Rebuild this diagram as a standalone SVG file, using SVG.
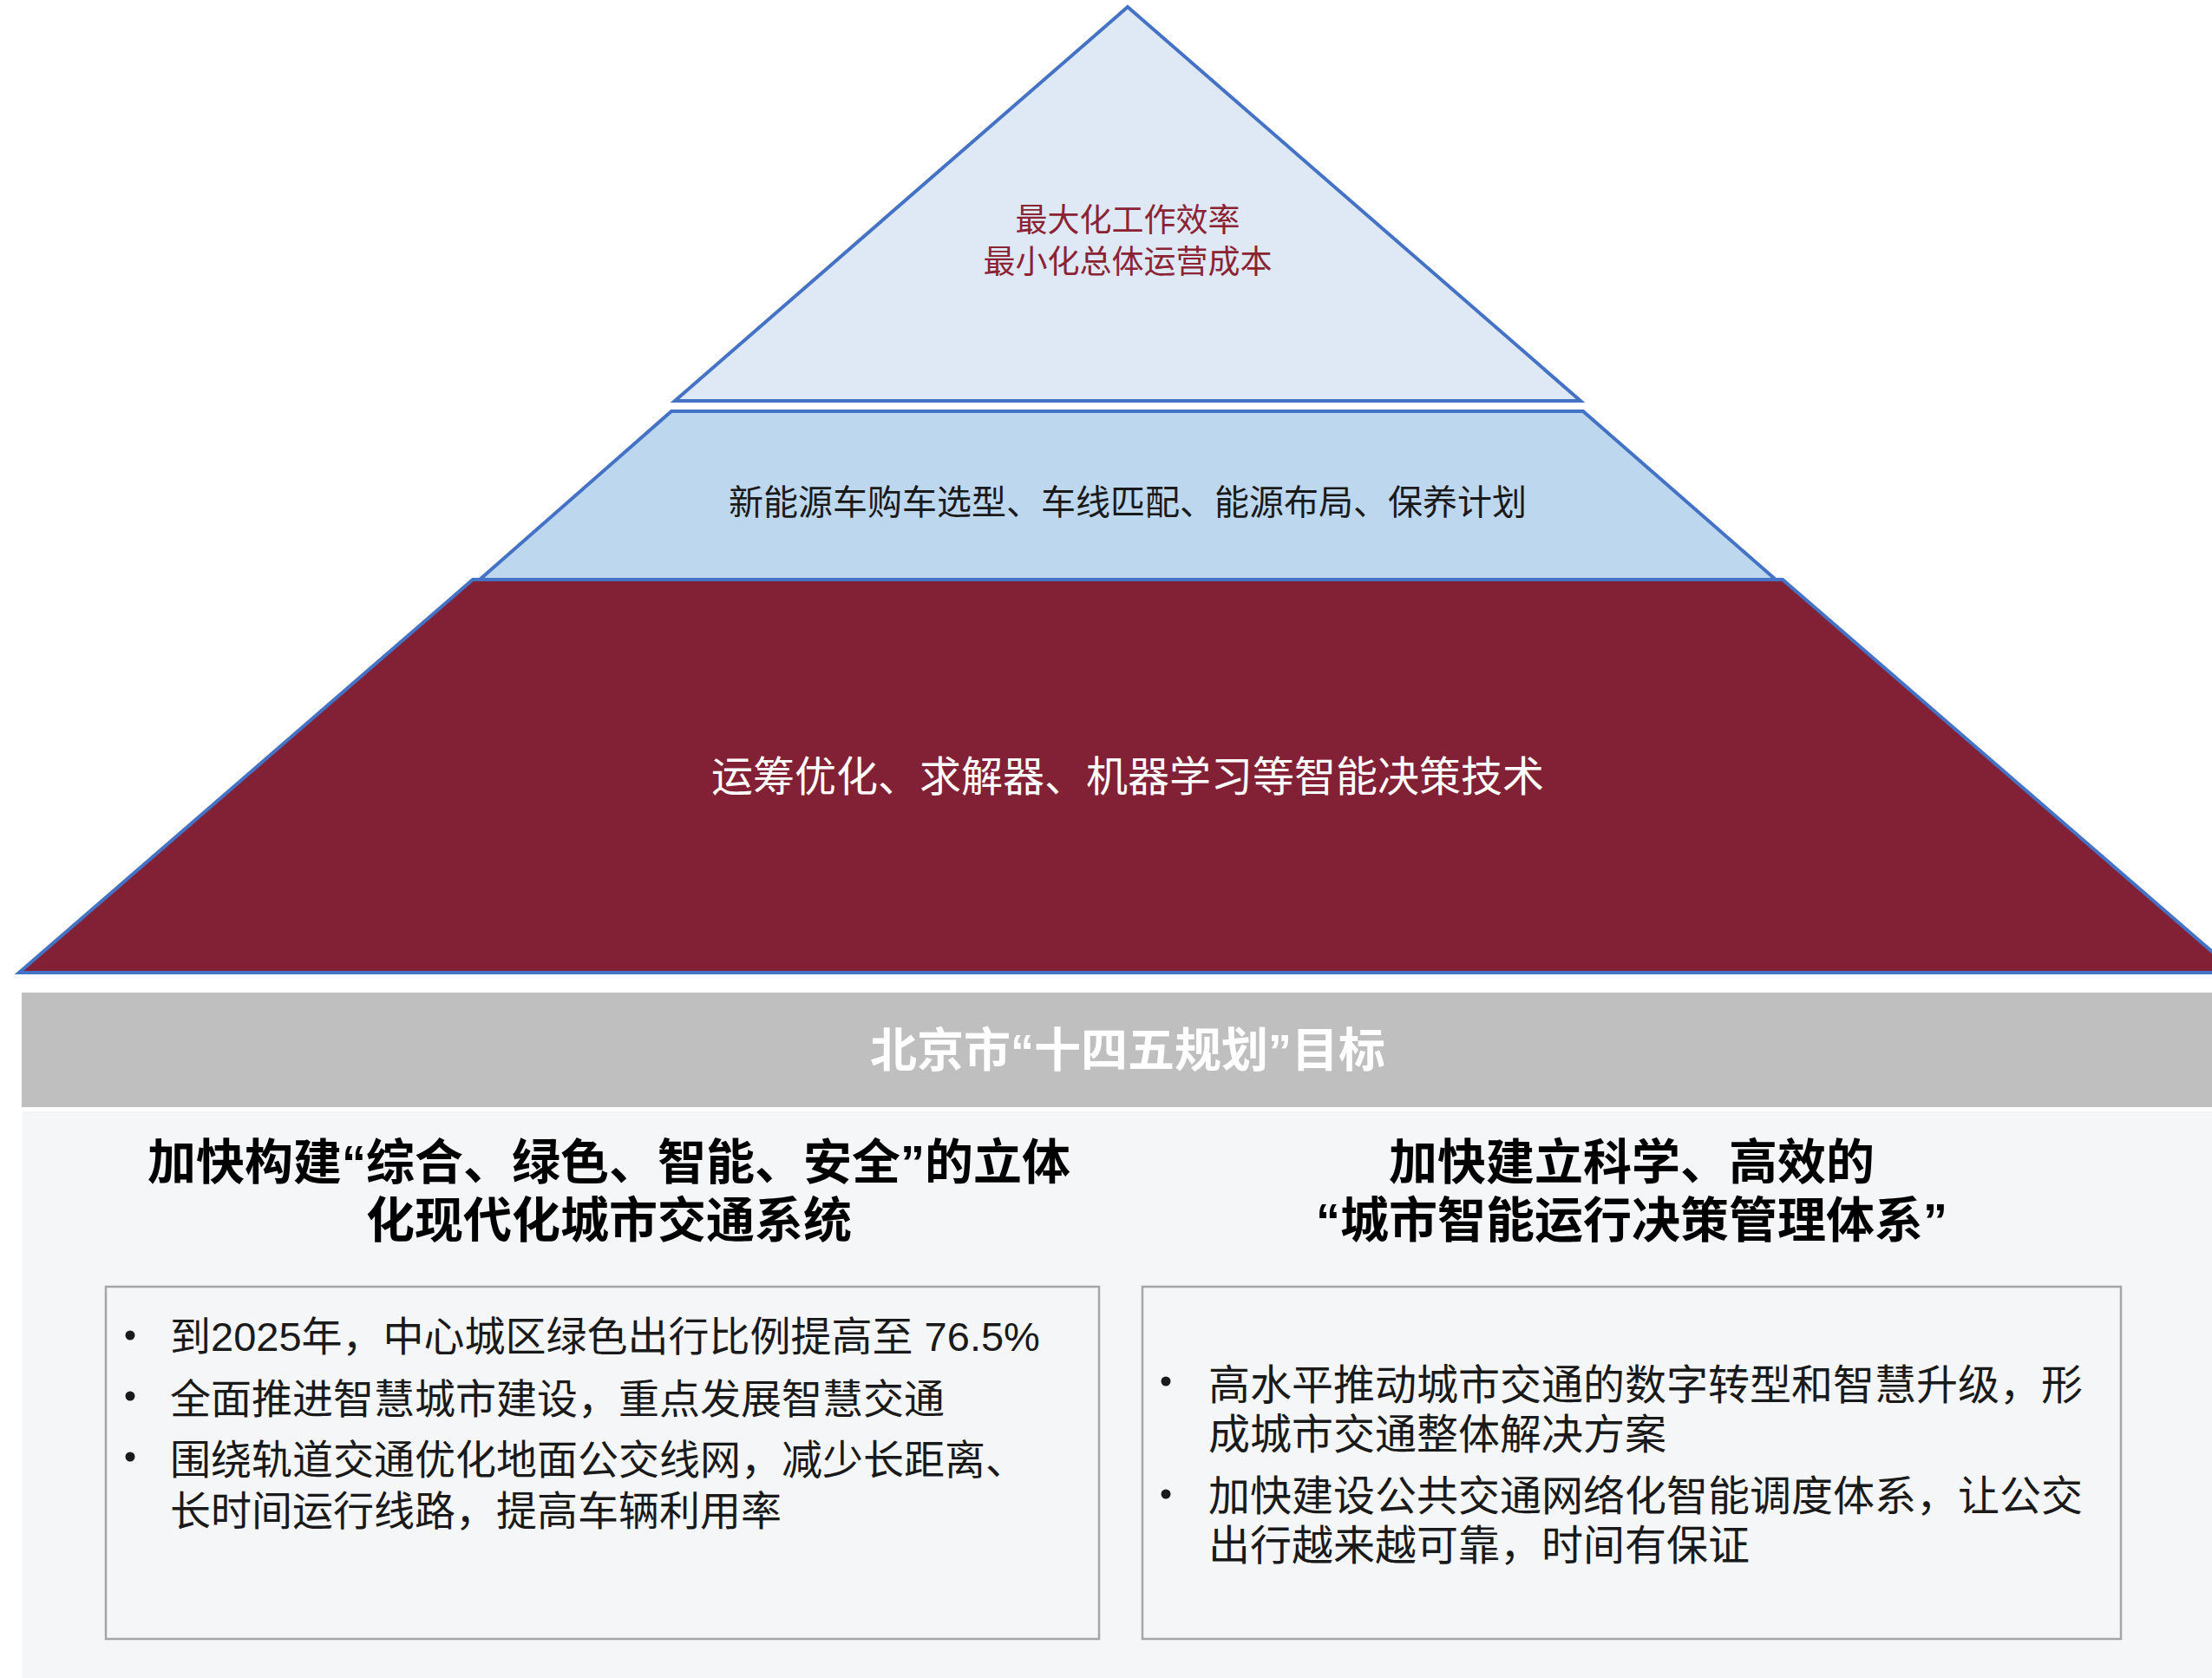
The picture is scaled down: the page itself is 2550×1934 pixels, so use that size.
<svg xmlns="http://www.w3.org/2000/svg" width="2550" height="1934" viewBox="0 0 2550 1934">
<style>
.lvl{stroke:#4472C4;stroke-width:4;stroke-linejoin:miter}
.t{font-family:"Liberation Sans","Noto Sans CJK SC",sans-serif}
.cjk{font-family:"Noto Sans CJK SC","Liberation Sans",sans-serif}
.hd{font-family:"Liberation Sans","Noto Sans CJK SC",sans-serif;font-weight:bold;font-size:56px;fill:#000;text-anchor:middle}
.bl{font-family:"Liberation Sans","Noto Sans CJK SC",sans-serif;font-size:47px;fill:#1a1a1a}
.br{font-family:"Liberation Sans","Noto Sans CJK SC",sans-serif;font-size:48px;fill:#1a1a1a}
.box{fill:#F5F6F8;stroke:#A6A6A6;stroke-width:2.5}
.dot{fill:#1a1a1a}
</style>
<rect width="2550" height="1934" fill="#FFFFFF"/>
<g id="level-bottom">
<polygon class="lvl" points="545,668 2055,668 2578,1121 22,1121" fill="#822035"/>
<text class="cjk" x="1300" y="912" font-size="48" fill="#FFFFFF" text-anchor="middle">运筹优化、求解器、机器学习等智能决策技术</text>
</g>
<g id="level-middle">
<polygon class="lvl" points="774,474 1825,474 2047,668 553,668" fill="#BDD7EE"/>
<text class="cjk" x="1300" y="593" font-size="40" fill="#1a1a1a" text-anchor="middle">新能源车购车选型、车线匹配、能源布局、保养计划</text>
</g>
<g id="level-top">
<polygon class="lvl" points="1300,8 1822,462 778,462" fill="#DEE9F5"/>
<text class="cjk" x="1300" y="267" font-size="37" fill="#8B2335" text-anchor="middle">最大化工作效率</text>
<text class="cjk" x="1300" y="315" font-size="37" fill="#8B2335" text-anchor="middle">最小化总体运营成本</text>
</g>
<g id="goal-header">
<rect x="25" y="1144" width="2525" height="132" fill="#BFBFBF"/>
<text class="t" x="1300" y="1230" font-size="54" font-weight="bold" fill="#FFFFFF" text-anchor="middle">北京市“十四五规划”目标</text>
</g>
<g id="goal-panel">
<rect x="26" y="1281" width="2524" height="653" fill="#F5F6F8"/>
</g>
<g id="goal-left">
<text class="hd" x="702" y="1359">加快构建“综合、绿色、智能、安全”的立体</text>
<text class="hd" x="702" y="1426">化现代化城市交通系统</text>
<rect class="box" x="122" y="1483" width="1145" height="406"/>
<circle class="dot" cx="150" cy="1539" r="5.5"/>
<circle class="dot" cx="150" cy="1609" r="5.5"/>
<circle class="dot" cx="150" cy="1679" r="5.5"/>
<text class="bl" x="196" y="1557">到2025年，中心城区绿色出行比例提高至 76.5%</text>
<text class="bl" x="196" y="1629">全面推进智慧城市建设，重点发展智慧交通</text>
<text class="bl" x="196" y="1699">围绕轨道交通优化地面公交线网，减少长距离、</text>
<text class="bl" x="196" y="1758">长时间运行线路，提高车辆利用率</text>
</g>
<g id="goal-right">
<text class="hd" x="1881" y="1359">加快建立科学、高效的</text>
<text class="hd" x="1881" y="1426">“城市智能运行决策管理体系”</text>
<rect class="box" x="1317" y="1483" width="1128" height="406"/>
<circle class="dot" cx="1344" cy="1592" r="5.5"/>
<circle class="dot" cx="1344" cy="1722" r="5.5"/>
<text class="br" x="1393" y="1613">高水平推动城市交通的数字转型和智慧升级，形</text>
<text class="br" x="1393" y="1670">成城市交通整体解决方案</text>
<text class="br" x="1393" y="1741">加快建设公共交通网络化智能调度体系，让公交</text>
<text class="br" x="1393" y="1798">出行越来越可靠，时间有保证</text>
</g>
</svg>
